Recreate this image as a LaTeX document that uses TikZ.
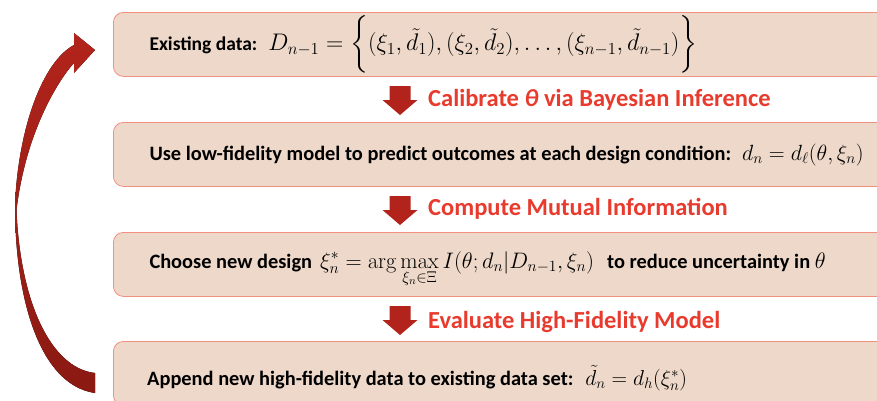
\RequirePackage{fix-cm}
\documentclass[tikz,border=0pt]{standalone}
\usepackage{amsmath,amssymb}
\usepackage[no-math]{fontspec}
\setmainfont{Carlito}
\definecolor{boxfill}{RGB}{237,216,201}
\definecolor{boxline}{RGB}{241,143,128}
\definecolor{arrowred}{RGB}{178,36,27}
\definecolor{labelred}{RGB}{232,58,45}
\definecolor{darkred}{RGB}{138,26,18}
\newcommand{\mathsz}[2]{{\fontsize{#1}{#1}\selectfont$#2$}}
\begin{document}
\begin{tikzpicture}[x=1pt,y=-1pt,
  stepbox/.style={draw=boxline, line width=0.8pt, fill=boxfill, rounded corners=10pt,
    minimum width=800pt, minimum height=64pt, anchor=north west, inner sep=0pt},
  bodytext/.style={anchor=base west, inner sep=0pt, font=\bfseries, text=black},
  steplabel/.style={anchor=base west, inner sep=0pt, font=\fontsize{24.5}{28}\selectfont\bfseries, text=labelred},
  blockarrow/.style={fill=arrowred, draw=none}]
\useasboundingbox (0,0) rectangle (877,400);
\clip (0,0) rectangle (877,400);

% boxes
\node[stepbox] (b1) at (113,12) {};
\node[stepbox] (b2) at (113,122) {};
\node[stepbox] (b3) at (113,232) {};
\node[stepbox] (b4) at (113,341) {};

% texts in boxes
\node[bodytext] (t1) at (149.3,50.7) {\fontsize{19.5}{23}\selectfont Existing data:\hspace{11pt}\smash{\mathsz{24}{D_{n-1} = \left\{\rule[-0.9em]{0pt}{2.3em}(\xi_1,\tilde{d}_1),(\xi_2,\tilde{d}_2),\ldots,(\xi_{n-1},\tilde{d}_{n-1})\right\}}}};
\node[bodytext] (t2) at (149.3,160.5) {\fontsize{20.4}{24}\selectfont Use low-fidelity model to predict outcomes at each design condition:\hspace{11pt}\mathsz{22}{d_n = d_\ell(\theta,\xi_n)}};
\node[bodytext] (t3) at (149.3,268) {\fontsize{20.4}{25}\selectfont Choose new design\hspace{8pt}\mathsz{22.4}{\xi_n^* = \arg\max\limits_{\xi_n\in\Xi} I(\theta; d_n | D_{n-1}, \xi_n)}\hspace{13pt}to reduce uncertainty in \mathsz{22.4}{\theta}};
\node[bodytext] (t4) at (147,385) {\fontsize{20.4}{24}\selectfont Append new high-fidelity data to existing data set:\hspace{12pt}\mathsz{21.6}{\tilde{d}_n = d_h(\xi_n^*)}};

% step labels
\node[steplabel] (l1) at (428,106.5) {Calibrate {\itshape θ} via Bayesian Inference};
\node[steplabel] (l2) at (428,215.5) {Compute Mutual Information};
\node[steplabel] (l3) at (428,328) {Evaluate High-Fidelity Model};

% block arrows between boxes
\foreach \t/\n in {86/a1,196/a2,306/a3}{
  \coordinate (\n) at (400,\t);
  \fill[blockarrow] (\n) ++(-10.5,0) -- ++(21,0) -- ++(0,14) -- ++(7,0) -- ++(-17.5,15) -- ++(-17.5,-15) -- ++(7,0) -- cycle;
}

% curved return arrow
\fill[top color=arrowred, bottom color=darkred]
  (95,393) .. controls (40,385) and (15,300) .. (15,205)
  .. controls (18,130) and (42,62) .. (74,45)
  -- (74,33) -- (95,50) -- (74,73) -- (74,63)
  .. controls (60,78) and (26,130) .. (16.5,210)
  .. controls (20,300) and (50,368) .. (95,373) -- cycle;
\end{tikzpicture}
\end{document}
